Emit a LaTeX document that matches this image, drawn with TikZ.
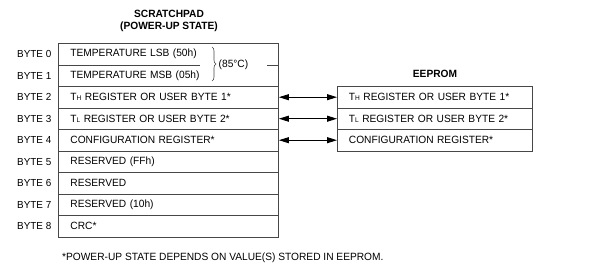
\documentclass[tikz,border=0pt]{standalone}
\usepackage{fontspec}
\setmainfont{Liberation Sans}[FakeStretch=0.97]
\usetikzlibrary{arrows.meta,decorations.pathreplacing,calc}
\newcommand{\regT}[1]{T{\fontsize{6.8}{7}\selectfont #1}}
\begin{document}
\begin{tikzpicture}[x=1pt,y=-1pt,
  every node/.style={font=\fontsize{10.5}{12}\selectfont, text=black},
  line/.style={draw=black!72, line width=0.9pt},
  sprow/.style={line, minimum height=21.5pt, text width=196pt, inner xsep=12pt, inner ysep=0pt, align=left, anchor=north west},
  sprowopen/.style={sprow, draw=none},
  eerow/.style={sprow, text width=172pt, inner xsep=11.5pt},
  bytelabel/.style={anchor=west, inner sep=0pt, font=\fontsize{10.2}{12}\selectfont},
  title/.style={font=\bfseries\fontsize{10.5}{12.5}\selectfont, align=center},
  link/.style={line, draw=black, {Triangle[length=10pt,width=6pt]}-{Triangle[length=10pt,width=6pt]}}
]
\useasboundingbox (0,0) rectangle (600,268);

% scratchpad title
\node[title] (sptitle) at (169,21) {SCRATCHPAD\\(POWER-UP STATE)};

% scratchpad rows
\node[sprowopen] (s0) at (58,43)   {TEMPERATURE LSB (50h)};
\node[sprowopen] (s1) at (58,64.5) {TEMPERATURE MSB (05h)};
\node[sprow] (s2) at (58,86)    {\regT{H} REGISTER OR USER BYTE 1*};
\node[sprow] (s3) at (58,107.5) {\regT{L} REGISTER OR USER BYTE 2*};
\node[sprow] (s4) at (58,129)   {CONFIGURATION REGISTER*};
\node[sprow] (s5) at (58,150.5) {RESERVED (FFh)};
\node[sprow] (s6) at (58,172)   {RESERVED};
\node[sprow] (s7) at (58,193.5) {RESERVED (10h)};
\node[sprow] (s8) at (58,215)   {CRC*};

% frame of bytes 0-1
\draw[line] (s1.south west) -- (s0.north west) -- (s0.north east) -- (s1.south east);
\draw[line] (s0.south west) -- ++(142,0);
\draw[line] (s0.south east) -- ++(-12,0);

% brace and temperature
\draw[line, line width=0.6pt, decoration={brace, amplitude=4pt}, decorate] (212,47) -- (212,81);
\node[anchor=west, inner sep=0pt] (temp) at (218.5,64.5) {(85°C)};

% byte labels
\foreach \i in {0,...,8} {
  \node[bytelabel] (b\i) at ($(s\i.west)+(-41,0)$) {BYTE \i};
}

% EEPROM
\node[title] (eetitle) at (435,73.5) {EEPROM};
\node[eerow] (e2) at (337,86)    {\regT{H} REGISTER OR USER BYTE 1*};
\node[eerow] (e3) at (337,107.5) {\regT{L} REGISTER OR USER BYTE 2*};
\node[eerow] (e4) at (337,129)   {CONFIGURATION REGISTER*};

% links
\draw[link] (s2.east) -- (e2.west);
\draw[link] (s3.east) -- (e3.west);
\draw[link] (s4.east) -- (e4.west);

% footnote
\node[anchor=west, inner sep=0pt] (note) at (62,258) {*POWER-UP STATE DEPENDS ON VALUE(S) STORED IN EEPROM.};
\end{tikzpicture}
\end{document}
